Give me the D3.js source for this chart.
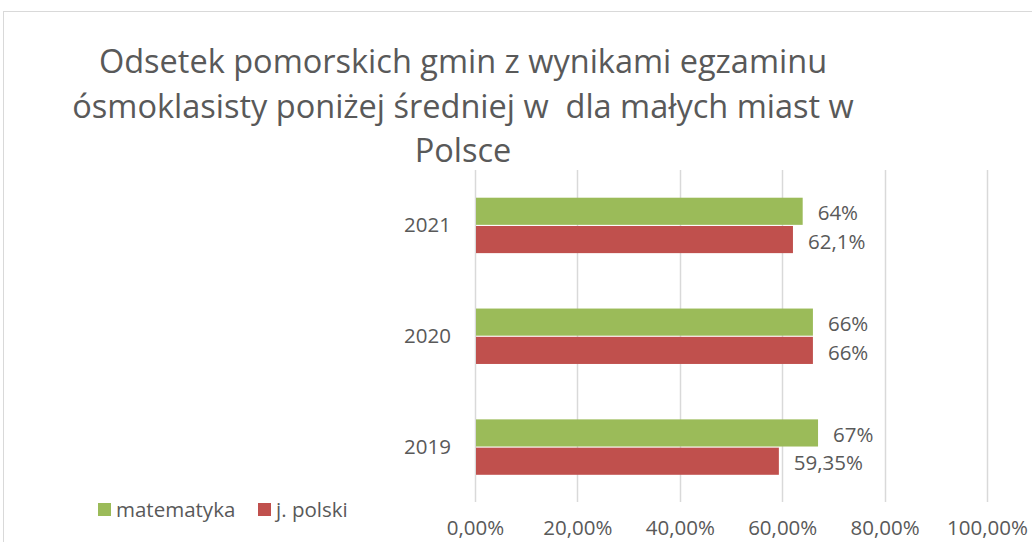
<!DOCTYPE html>
<html lang="pl">
  <head>
    <meta charset="utf-8">
    <title>Odsetek pomorskich gmin</title>
    <script src="https://d3js.org/d3.v7.min.js"></script>
    <style type="text/css">
body,html{
    margin: 0;
    padding: 0;
    background: #fff;
    overflow: hidden;
  }
text{
    font-family: "Open Sans", sans-serif;
    fill: #595959;
  }
    </style>
  </head>
  <body>
    <script type="text/javascript">
      const w = 1032;
      const h = 542;

      // data
      const years = ["2021", "2020", "2019"];
      const series = ["matematyka", "j. polski"];
      const matematyka = [0.64, 0.66, 0.67];
      const polski = [0.621, 0.66, 0.5935];
      const labelsMat = ["64%", "66%", "67%"];
      const labelsPol = ["62,1%", "66%", "59,35%"];
      const xTicks = [0, 0.2, 0.4, 0.6, 0.8, 1.0];
      const titleLines = ["Odsetek pomorskich gmin z wynikami egzaminu",
                          "ósmoklasisty poniżej średniej w  dla małych miast w",
                          "Polsce"];
      const colors = ["#9BBB59", "#C0504D"];

      const margin = {top: 170, bottom: 40, left: 475, right: 45};
      const fs = "20.5px";

      const svg = d3.select("body")
        .append("svg")
        .attr("width", w)
        .attr("height", h);

      // chart border
      svg.append("rect")
        .attr("x", 3.5).attr("y", 11.5)
        .attr("width", w + 10).attr("height", h + 10)
        .attr("fill", "none")
        .attr("stroke", "#d9d9d9");

      svg.selectAll(".title")
        .data(titleLines)
        .enter()
        .append("text")
        .attr("class", "title")
        .attr("x", 463)
        .attr("y", (d, i) => 73 + i * 44.5)
        .attr("text-anchor", "middle")
        .style("font-size", "32.5px")
        .style("white-space", "pre")
        .text(d => d);

      const x = d3.scaleLinear()
        .domain([0, 1])
        .range([margin.left, 987]);

      const y = d3.scaleBand()
        .domain(years)
        .range([margin.top, h - margin.bottom + 0.5])
        .paddingInner(0.5)
        .paddingOuter(0.25);

      const inner = d3.scaleBand()
        .domain(series)
        .range([0, y.bandwidth()])
        .paddingInner(0.04);

      // gridlines
      svg.selectAll(".grid")
        .data(xTicks)
        .enter()
        .append("line")
        .attr("x1", d => Math.round(x(d)) + 0.5)
        .attr("x2", d => Math.round(x(d)) + 0.5)
        .attr("y1", margin.top)
        .attr("y2", h - margin.bottom)
        .attr("stroke", "#d9d9d9")
        .attr("stroke-width", 1.5);

      const xAxis = d3.axisBottom(x)
        .tickValues(xTicks)
        .tickSize(0)
        .tickPadding(18)
        .tickFormat(d => (d * 100).toFixed(2).replace(".", ",") + "%");

      svg.append("g")
        .attr("transform", "translate(0," + (h - margin.bottom) + ")")
        .call(xAxis)
        .call(g => g.select(".domain").remove())
        .selectAll("text")
        .style("font-size", fs)
        .attr("fill", "#595959");

      const yAxis = d3.axisLeft(y).tickSize(0).tickPadding(24);
      svg.append("g")
        .attr("transform", "translate(" + margin.left + ",0)")
        .call(yAxis)
        .call(g => g.select(".domain").remove())
        .selectAll("text")
        .style("font-size", fs)
        .attr("fill", "#595959");

      const values = [matematyka, polski];
      const labels = [labelsMat, labelsPol];

      series.forEach(function(s, si) {
        svg.selectAll(".bar" + si)
          .data(years)
          .enter()
          .append("rect")
          .attr("x", x(0) + 1)
          .attr("y", d => y(d) + inner(s))
          .attr("width", (d, i) => x(values[si][i]) - x(0) - 1)
          .attr("height", inner.bandwidth())
          .attr("fill", colors[si]);

        svg.selectAll(".lab" + si)
          .data(years)
          .enter()
          .append("text")
          .attr("x", (d, i) => x(values[si][i]) + 15)
          .attr("y", d => y(d) + inner(s) + inner.bandwidth() / 2 + 2)
          .attr("dy", "0.35em")
          .style("font-size", fs)
          .text((d, i) => labels[si][i]);
      });

      // legend
      const legendX = [98, 258];
      const legend = svg.selectAll(".legend")
        .data(series)
        .enter()
        .append("g")
        .attr("transform", (d, i) => "translate(" + legendX[i] + ",503)");

      legend.append("rect")
        .attr("width", 13)
        .attr("height", 13)
        .attr("fill", (d, i) => colors[i]);

      legend.append("text")
        .attr("x", 18)
        .attr("y", 7)
        .attr("dy", "0.35em")
        .style("font-size", fs)
        .text(d => d);
    </script>
  </body>
</html>
